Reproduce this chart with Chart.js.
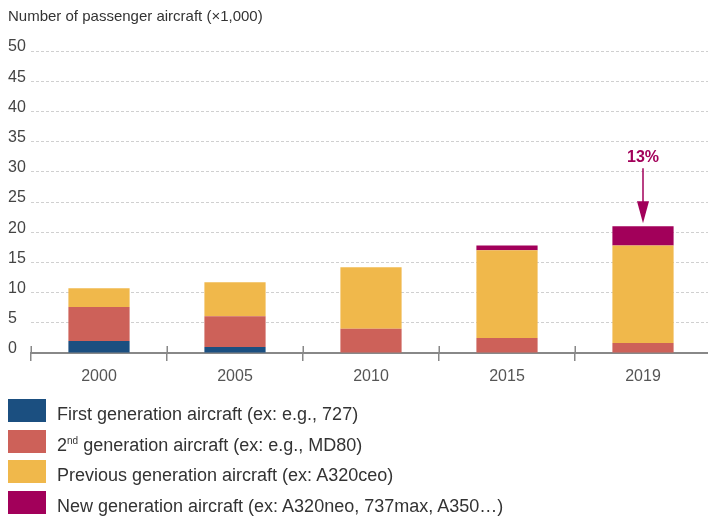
<!DOCTYPE html>
<html>
<head>
<meta charset="utf-8">
<script src="https://cdn.jsdelivr.net/npm/chart.js@4/dist/chart.umd.min.js"></script>
<style>
  html, body { margin: 0; padding: 0; background: #fff; overflow: hidden; width: 708px; height: 518px; }
  #wrap { position: relative; width: 711px; height: 518px; }
  canvas { position: absolute; left: 0; top: 0; }
  #legend { position: absolute; left: 8px; top: 399px; font-family: "Liberation Sans", Arial, sans-serif; font-size: 18px; color: #333; }
  .row { display: flex; align-items: flex-end; height: 23px; margin-bottom: 7.5px; white-space: nowrap; }
  .box { width: 38px; height: 23px; margin-right: 11px; flex: none; }
  .lbl { position: relative; top: 1px; line-height: 18px; }
  sup { font-size: 10px; vertical-align: 7px; line-height: 0; }
</style>
</head>
<body>
<div id="wrap">
  <canvas id="c" width="711" height="518"></canvas>
  <div id="legend"></div>
</div>
<script>
// ---- Data ----
const categories = ['2000', '2005', '2010', '2015', '2019'];
const firstGen    = [2.0, 1.0, 0, 0, 0];
const secondGen   = [5.6, 5.1, 4.0, 2.5, 1.65];
const previousGen = [3.1, 5.6, 10.2, 14.5, 16.15];
const newGen      = [0, 0, 0, 0.8, 3.2];
const seriesNames = [
  'First generation aircraft (ex: e.g., 727)',
  '2<sup>nd</sup> generation aircraft (ex: e.g., MD80)',
  'Previous generation aircraft (ex: A320ceo)',
  'New generation aircraft (ex: A320neo, 737max, A350…)'
];
const seriesColors = ['#1b4f80', '#cd6159', '#f0b84b', '#a2005a'];
const yTicks = [0, 5, 10, 15, 20, 25, 30, 35, 40, 45, 50];
const titleText = 'Number of passenger aircraft (×1,000)';
const annotationIndex = 4;
const annotationText = '13%';

const FONT = '"Liberation Sans", Arial, sans-serif';

const seriesValues = [firstGen, secondGen, previousGen, newGen];

const extras = {
  id: 'extras',
  afterDraw(chart) {
    const ctx = chart.ctx;
    const xs = chart.scales.x, ys = chart.scales.y;
    // upward part of x-axis tick marks at category boundaries
    const n = categories.length;
    const step = xs.width / n;
    ctx.save();
    ctx.strokeStyle = '#888';
    ctx.lineWidth = 1.5;
    for (let i = 0; i <= n; i++) {
      const x = Math.round(xs.left + i * step) + 0.25;
      ctx.beginPath();
      ctx.moveTo(x, ys.bottom);
      ctx.lineTo(x, ys.bottom - 7);
      ctx.stroke();
    }
    // annotation arrow
    let total = 0;
    seriesValues.forEach(s => total += s[annotationIndex]);
    const ax = xs.getPixelForValue(annotationIndex);
    const tipY = ys.getPixelForValue(total) - 3;
    const color = seriesColors[3];
    ctx.strokeStyle = color;
    ctx.fillStyle = color;
    ctx.lineWidth = 1.5;
    ctx.beginPath();
    ctx.moveTo(ax, tipY - 55);
    ctx.lineTo(ax, tipY - 18);
    ctx.stroke();
    ctx.beginPath();
    ctx.moveTo(ax - 6, tipY - 22);
    ctx.lineTo(ax + 6, tipY - 22);
    ctx.lineTo(ax, tipY);
    ctx.closePath();
    ctx.fill();
    ctx.font = 'bold 16px ' + FONT;
    ctx.textAlign = 'center';
    ctx.textBaseline = 'middle';
    ctx.fillText(annotationText, ax, tipY - 66);
    ctx.restore();
  }
};

new Chart(document.getElementById('c'), {
  type: 'bar',
  data: {
    labels: categories,
    datasets: seriesValues.map((vals, i) => ({
      label: seriesNames[i].replace(/<[^>]+>/g, ''),
      data: vals,
      backgroundColor: seriesColors[i],
      borderWidth: 0,
      categoryPercentage: 1,
      barPercentage: 0.45
    }))
  },
  options: {
    responsive: false,
    animation: false,
    layout: { padding: { left: 8, right: 0, top: 0, bottom: 130 } },
    plugins: {
      legend: { display: false },
      tooltip: { enabled: false },
      title: {
        display: true,
        text: titleText,
        align: 'start',
        color: '#333',
        font: { family: FONT, size: 15, weight: 'normal' },
        padding: { top: 8, bottom: 25 }
      }
    },
    scales: {
      x: {
        stacked: true,
        offset: true,
        afterFit(s) { s.height = 35; },
        grid: { display: true, drawOnChartArea: false, drawTicks: true, tickLength: 8, color: '#888', lineWidth: 1.5, offset: true },
        border: { display: true, color: '#888', width: 2 },
        ticks: { color: '#555', padding: 6, font: { family: FONT, size: 16 } }
      },
      y: {
        stacked: true,
        min: 0,
        max: 50,
        afterFit(s) { s.width = 23; },
        afterBuildTicks(s) { s.ticks = yTicks.map(v => ({ value: v })); },
        grid: { display: true, drawTicks: false, color: '#d0d0d0', lineWidth: 1 },
        border: { display: false, dash: [3, 2] },
        ticks: { color: '#444', crossAlign: 'far', labelOffset: -4, padding: 0, font: { family: FONT, size: 16 } }
      }
    }
  },
  plugins: [extras]
});

// HTML legend (keeps the superscript)
const lg = document.getElementById('legend');
seriesNames.forEach((name, i) => {
  const row = document.createElement('div');
  row.className = 'row';
  row.innerHTML = '<div class="box" style="background:' + seriesColors[i] + '"></div><span class="lbl">' + name + '</span>';
  lg.appendChild(row);
});
</script>
</body>
</html>
